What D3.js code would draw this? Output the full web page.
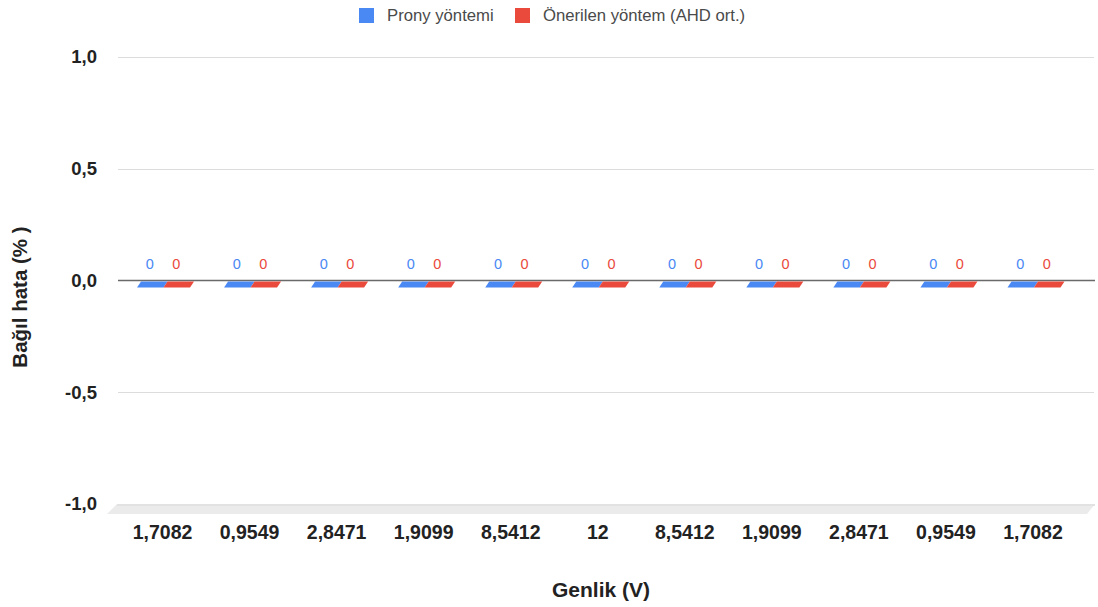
<!DOCTYPE html>
<html>
<head>
<meta charset="utf-8">
<script src="https://cdn.jsdelivr.net/npm/d3@7"></script>
<style>
  html, body { margin: 0; padding: 0; background: #fff; }
  svg { display: block; font-family: "Liberation Sans", Arial, sans-serif; }
</style>
</head>
<body>
<svg id="chart" width="1098" height="607"></svg>
<script>
// Amplitude categories along the x axis
const categories = ["1,7082", "0,9549", "2,8471", "1,9099", "8,5412", "12", "8,5412", "1,9099", "2,8471", "0,9549", "1,7082"];
// Relative error (%) per method
const pronyValues = [0, 0, 0, 0, 0, 0, 0, 0, 0, 0, 0];
const proposedValues = [0, 0, 0, 0, 0, 0, 0, 0, 0, 0, 0];
const seriesNames = ["Prony yöntemi", "Önerilen yöntem (AHD ort.)"];
const seriesColors = ["#4a88f4", "#ea4a3c"];
const yTicks = [-1, -0.5, 0, 0.5, 1];

const svg = d3.select("#chart");
const fmt = v => d3.format(".1f")(v).replace("\u2212", "-").replace(".", ",");

// plot geometry
const gridLeft = 118, gridRight = 1094;
const y = d3.scaleLinear().domain([-1, 1]).range([504, 57]);
const x = d3.scaleBand().domain(d3.range(categories.length)).range([119, 1076.5]).paddingInner(0);
const xs = d3.scaleBand().domain([0, 1]).range([0, 53]);
const depthDx = 4, depthDy = 6;   // bar top-face shear

// floor of the 3D plot
const floorDepth = 10;
svg.append("polygon")
  .attr("points", [
    [gridLeft - 1, y(-1)], [gridRight + 1, y(-1)],
    [gridRight + 1 - 8, y(-1) + floorDepth], [gridLeft - 11, y(-1) + floorDepth]
  ].map(p => p.join(",")).join(" "))
  .attr("fill", "#ebebeb");
svg.append("line")
  .attr("x1", gridLeft - 1).attr("x2", gridRight + 1)
  .attr("y1", y(-1) + 1).attr("y2", y(-1) + 1)
  .attr("stroke", "#e2e2e2").attr("stroke-width", 2);

// horizontal gridlines
svg.append("g").selectAll("line")
  .data(yTicks.filter(t => t !== 0 && t !== -1))
  .join("line")
  .attr("x1", gridLeft).attr("x2", gridRight)
  .attr("y1", d => Math.round(y(d)) + 0.5).attr("y2", d => Math.round(y(d)) + 0.5)
  .attr("stroke", "#dcdcdc").attr("stroke-width", 1);

// y axis tick labels
const yAxis = d3.axisLeft(y).tickValues(yTicks).tickFormat(fmt).tickSize(0).tickPadding(0);
const yg = svg.append("g").attr("transform", "translate(97,0)").call(yAxis);
yg.select(".domain").remove();
yg.selectAll("text")
  .attr("font-size", 18.5).attr("fill", "#222")
  .attr("font-family", "'Liberation Sans', Arial, sans-serif")
  .style("font-weight", 600);

// zero baseline
svg.append("line")
  .attr("x1", gridLeft).attr("x2", gridRight + 1)
  .attr("y1", y(0)).attr("y2", y(0))
  .attr("stroke", "#6a6a6a").attr("stroke-width", 1.6);

// bars (top face shown as a sheared parallelogram)
const rows = [];
categories.forEach((c, j) => {
  [pronyValues[j], proposedValues[j]].forEach((v, s) => {
    rows.push({ j, s, v });
  });
});
const barX = d => x(d.j) + x.bandwidth() / 2 + 1 - 26.5 + xs(d.s);
svg.append("g").selectAll("polygon")
  .data(rows)
  .join("polygon")
  .attr("points", d => {
    const x0 = barX(d), w = xs.bandwidth();
    const yv = y(d.v);
    return [
      [x0 + depthDx, yv + 1], [x0 + w + depthDx, yv + 1],
      [x0 + w, yv + 1 + depthDy], [x0, yv + 1 + depthDy]
    ].map(p => p.join(",")).join(" ");
  })
  .attr("fill", d => seriesColors[d.s]);

// value labels
svg.append("g").selectAll("text")
  .data(rows)
  .join("text")
  .attr("x", d => barX(d) + xs.bandwidth() / 2 - 0.5)
  .attr("y", d => y(d.v) - 12)
  .attr("text-anchor", "middle")
  .attr("font-size", 14.5)
  .attr("fill", d => seriesColors[d.s])
  .text(d => String(d.v));

// x axis category labels
const xAxis = d3.axisBottom(x).tickFormat(i => categories[i]).tickSize(0).tickPadding(0);
const xg = svg.append("g").attr("transform", "translate(0,525)").call(xAxis);
xg.select(".domain").remove();
xg.selectAll("text")
  .attr("font-size", 19.5).attr("fill", "#222")
  .attr("font-family", "'Liberation Sans', Arial, sans-serif")
  .style("font-weight", 600);

// axis titles
svg.append("text")
  .attr("x", 601).attr("y", 597)
  .attr("text-anchor", "middle")
  .attr("font-size", 21).attr("font-weight", "bold").attr("fill", "#222")
  .text("Genlik (V)");
svg.append("text")
  .attr("transform", "translate(27,297) rotate(-90)")
  .attr("text-anchor", "middle")
  .attr("font-size", 20.5).attr("font-weight", "bold").attr("fill", "#222")
  .text("Bağıl hata (% )");

// legend
const legendItems = [
  { name: seriesNames[0], color: seriesColors[0], x: 359 },
  { name: seriesNames[1], color: seriesColors[1], x: 515 }
];
const lg = svg.append("g").selectAll("g").data(legendItems).join("g")
  .attr("transform", d => `translate(${d.x},8)`);
lg.append("rect").attr("width", 15).attr("height", 15).attr("fill", d => d.color);
lg.append("text")
  .attr("x", 28).attr("y", 13)
  .attr("font-size", 16.7).attr("fill", "#4a4a4a")
  .text(d => d.name);
</script>
</body>
</html>
